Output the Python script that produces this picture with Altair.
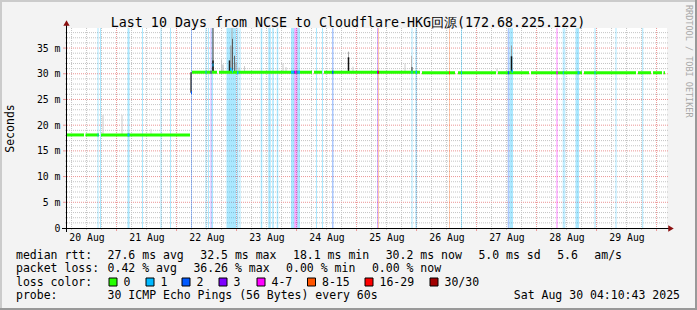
import altair as alt
import pandas as pd

MONO = "DejaVu Sans Mono"

# ---------------- data (hours since Aug 20 04:10:43, milliseconds) ----------------
SPAN_H = 240.0
Y_MAX = 38.9
FIRST_MIDNIGHT_H = 19.82          # Aug 21 00:00
DAY_LABELS = ["20 Aug", "21 Aug", "22 Aug", "23 Aug", "24 Aug",
              "25 Aug", "26 Aug", "27 Aug", "28 Aug", "29 Aug"]
Y_TICKS = [0, 5, 10, 15, 20, 25, 30, 35]

# median rtt segments
MED_START = [0.0, 7.4, 13.6, 50.0, 60.8, 98.8, 102.8, 142.0, 156.4, 172.4, 185.6, 206.8, 228.4, 234.4, 238.6]
MED_END   = [6.8, 12.8, 49.2, 60.0, 98.0, 102.0, 141.2, 155.2, 171.6, 184.8, 206.0, 227.6, 233.6, 238.0, 239.2]
MED_MS    = [18.1, 18.1, 18.1, 30.3, 30.3, 30.3, 30.3, 30.2, 30.2, 30.2, 30.2, 30.2, 30.2, 30.2, 30.2]

# loss background stripes
STRIPE_H = [12.2, 13.2, 24.2, 30.0, 37.4, 41.2, 49.6, 55.4, 56.4, 57.4, 57.8, 63.8, 68.0, 69.0,
            77.5, 80.5, 82.1, 83.9, 89.6, 90.88, 91.2, 91.8, 92.2, 99.6, 102.0, 106.0, 124.0, 124.4,
            137.8, 139.4, 152.8, 157.6, 176.3, 177.0, 195.7, 198.3, 198.9, 203.4, 211.0, 219.4, 230.1]
STRIPE_W = [0.4, 0.4, 0.8, 0.4, 0.4, 0.4, 0.4, 0.4, 0.4, 0.4, 0.6, 4.0, 0.6, 0.4,
            0.6, 1.0, 0.6, 0.6, 1.2, 0.32, 0.6, 0.4, 1.0, 0.4, 0.4, 0.6, 0.4, 0.4,
            0.4, 0.6, 0.4, 0.4, 0.6, 1.4, 0.6, 0.4, 0.4, 1.4, 0.4, 0.4, 0.4]
STRIPE_CAT = ["1", "1", "1", "1", "1", "1", "2", "1", "1", "3", "1", "1", "1", "1",
              "1", "1", "1", "1", "1", "3", "4-7", "3", "1", "1", "1", "2", "3", "8-15",
              "1", "1", "8-15", "1", "2", "1", "4-7", "1", "1", "1", "1", "1", "1"]

# loss-coloured points on the median line
DOT_H   = [12.2, 24.2, 49.6, 55.4, 57.4, 58.2, 65.2, 66.0, 68.0, 89.6, 90.88, 91.2, 91.8, 92.2,
           106.0, 124.0, 124.4, 137.8, 139.4, 152.8, 157.6, 176.3, 177.8, 195.7, 198.3, 204.2, 211.0]
DOT_W   = [0.4, 0.8, 0.4, 0.4, 0.4, 0.4, 0.6, 0.4, 0.6, 1.2, 0.32, 0.6, 0.4, 1.0,
           0.6, 0.4, 0.4, 0.4, 0.6, 0.4, 0.4, 0.6, 0.6, 0.6, 0.4, 0.8, 0.4]
DOT_MS  = [18.1, 18.1, 26.3, 30.3, 30.3, 31.7, 30.9, 30.5, 30.2, 30.3, 30.3, 30.3, 30.3, 30.3,
           30.3, 30.3, 30.3, 30.3, 30.3, 30.2, 30.2, 30.2, 30.5, 30.2, 30.2, 30.2, 30.2]
DOT_CAT = ["1", "1", "2", "1", "3", "1", "1", "1", "1", "1", "3", "4-7", "3", "1",
           "2", "3", "16-29", "1", "1", "8-15", "1", "2", "1", "4-7", "1", "1", "1"]

# smoke (spread of pings)
SMOKE_H  = [14.4, 22.0, 33.6, 49.6, 58.4, 58.4, 61.8, 62.4, 65.0, 65.6, 66.0, 66.2, 67.0, 67.6,
            68.8, 71.0, 86.4, 87.6, 112.6, 112.6, 114.4, 135.2, 137.8, 138.0, 172.0, 177.8, 177.8]
SMOKE_LO = [18.1, 18.1, 18.1, 26.3, 30.3, 30.3, 30.3, 30.3, 30.3, 30.3, 30.3, 30.3, 30.3, 30.3,
            30.3, 30.3, 30.3, 30.3, 30.3, 30.3, 30.3, 30.2, 30.2, 30.2, 30.2, 30.2, 30.2]
SMOKE_HI = [22.0, 22.0, 19.3, 30.3, 38.9, 32.6, 32.8, 31.8, 32.6, 35.5, 38.9, 36.8, 33.5, 32.2,
            31.2, 31.5, 32.0, 31.3, 34.3, 33.2, 31.4, 32.0, 33.5, 31.3, 31.0, 35.5, 33.4]
SMOKE_C  = ["#cccccc", "#cccccc", "#d8d8d8", "#222222", "#5a5a5a", "#1a1a1a", "#c4c4c4", "#b4b4b4",
            "#222222", "#808080", "#b0b0b0", "#5a5a5a", "#6a6a6a", "#9a9a9a", "#bbbbbb", "#cccccc",
            "#cccccc", "#cccccc", "#a8a8a8", "#111111", "#cccccc", "#cccccc", "#b8b8b8", "#333333",
            "#cccccc", "#9a9a9a", "#111111"]
SMOKE_W  = [1, 1, 1, 1.2, 1.2, 1.5, 1, 1, 1.5, 1, 1, 1, 1, 1,
            1, 1, 1, 1, 1, 1.5, 1, 1, 1, 1, 1, 1, 1.5]

LOSS_CATS = ["0", "1", "2", "3", "4-7", "8-15", "16-29", "30/30"]
LOSS_COLORS = ["#26ff00", "#00b8ff", "#0059ff", "#7e00ff", "#ff00ff", "#ff5500", "#ff0000", "#a10000"]

TITLE = "Last 10 Days from NCSE to Cloudflare-HKG回源(172.68.225.122)"
LEGEND_RTT_HEAD = "median rtt:"
LEGEND_RTT = ["27.6 ms avg", "32.5 ms max", "18.1 ms min", "30.2 ms now", "5.0 ms sd", "5.6", "am/s"]
LEGEND_LOSS_HEAD = "packet loss:"
LEGEND_LOSS = ["0.42 % avg", "36.26 % max", "0.00 % min", "0.00 % now"]
LEGEND_COLOR_HEAD = "loss color:"
LEGEND_PROBE_HEAD = "probe:"
LEGEND_PROBE = "30 ICMP Echo Pings (56 Bytes) every 60s"
LEGEND_DATE = "Sat Aug 30 04:10:43 2025"
CREDIT = "RRDTOOL / TOBI OETIKER"

# ---------------- layout (pixels) ----------------
RTT_X = [107.6, 200.3, 293.0, 385.7, 478.4, 557.2, 594.3]
LOSS_X = [107.6, 193.4, 286.1, 371.9]
BOX_X = [109, 146, 182, 219, 257, 307.5, 365, 430]

# ---------------- derived tables ----------------
NOON_H = [FIRST_MIDNIGHT_H - 12 + 24 * i for i in range(len(DAY_LABELS))]
MAJOR_X = [FIRST_MIDNIGHT_H + 24 * i for i in range(10)]
MINOR_X = [FIRST_MIDNIGHT_H - 18 + 6 * k for k in range(40)
           if (k - 3) % 4 != 0 and 0 < FIRST_MIDNIGHT_H - 18 + 6 * k < SPAN_H]
MAJOR_Y = [5, 10, 15, 20, 25, 30, 35]
MINOR_Y = [i for i in range(1, 39) if i % 5 != 0]

med_df = pd.DataFrame({"h0": MED_START, "h1": MED_END, "ms": MED_MS})
stripe_df = pd.DataFrame({"h0": STRIPE_H, "h1": [a + b for a, b in zip(STRIPE_H, STRIPE_W)], "cat": STRIPE_CAT})
dot_df = pd.DataFrame({"h0": DOT_H, "h1": [a + b for a, b in zip(DOT_H, DOT_W)], "ms": DOT_MS, "cat": DOT_CAT})
smoke_df = pd.DataFrame({"h": SMOKE_H, "lo": SMOKE_LO, "hi": SMOKE_HI, "c": SMOKE_C, "w": SMOKE_W})

XS = alt.Scale(domain=[0, SPAN_H], nice=False, zero=False)
YS = alt.Scale(domain=[0, Y_MAX], nice=False, zero=True)
label_arr = "[" + ",".join("'" + d + "'" for d in DAY_LABELS) + "]"
XAX = alt.Axis(values=NOON_H, labelExpr=f"{label_arr}[round((datum.value - {NOON_H[0]}) / 24)]",
               grid=False, domain=False, ticks=False, labelFont=MONO, labelFontSize=9.8,
               labelColor="#000000", labelPadding=4, title=None, labelFlush=False,
               labelOverlap=False)
YAX = alt.Axis(values=Y_TICKS,
               labelExpr="datum.value == 0 ? '0\u00a0\u00a0' : datum.value + '\u00a0m'",
               grid=False, domain=False, ticks=False, labelFont=MONO, labelFontSize=9.8,
               labelColor="#000000", labelPadding=7, title="Seconds", titleFont=MONO,
               titleFontSize=11.5, titleFontWeight="normal", titleColor="#000000",
               titleX=-57, titleY=100, titleAngle=270, titleAlign="center",
               titleBaseline="middle", labelOverlap=False)


def X(f):
    return alt.X(f, type="quantitative", scale=XS, axis=XAX)


def Y(f):
    return alt.Y(f, type="quantitative", scale=YS, axis=YAX)


LOSS_SCALE = alt.Scale(domain=LOSS_CATS, range=LOSS_COLORS)
MINOR_C = "#c4c4c4"
MAJOR_C = "#eb9494"

layers = []

# grid
layers.append(alt.Chart(pd.DataFrame({"h": MINOR_X})).mark_rule(
    stroke=MINOR_C, strokeDash=[1, 1], strokeWidth=1).encode(
    x=X("h"), y=alt.value(0), y2=alt.value(200)))
layers.append(alt.Chart(pd.DataFrame({"v": MINOR_Y})).mark_rule(
    stroke=MINOR_C, strokeDash=[1, 1], strokeWidth=1).encode(
    y=Y("v"), x=alt.value(0), x2=alt.value(601)))
layers.append(alt.Chart(pd.DataFrame({"h": MAJOR_X})).mark_rule(
    stroke=MAJOR_C, strokeDash=[1, 1], strokeWidth=1).encode(
    x=X("h"), y=alt.value(0), y2=alt.value(200)))
layers.append(alt.Chart(pd.DataFrame({"v": MAJOR_Y})).mark_rule(
    stroke=MAJOR_C, strokeDash=[1, 1], strokeWidth=1).encode(
    y=Y("v"), x=alt.value(0), x2=alt.value(601)))
# small ticks outside the plot
layers.append(alt.Chart(pd.DataFrame({"h": MAJOR_X})).mark_rule(
    stroke=MAJOR_C, strokeWidth=1).encode(x=X("h"), y=alt.value(200), y2=alt.value(203)))
layers.append(alt.Chart(pd.DataFrame({"h": MINOR_X})).mark_rule(
    stroke=MINOR_C, strokeWidth=1).encode(x=X("h"), y=alt.value(200), y2=alt.value(202)))
layers.append(alt.Chart(pd.DataFrame({"v": MAJOR_Y})).mark_rule(
    stroke=MAJOR_C, strokeWidth=1).encode(y=Y("v"), x=alt.value(-4), x2=alt.value(0)))
layers.append(alt.Chart(pd.DataFrame({"v": MINOR_Y})).mark_rule(
    stroke=MINOR_C, strokeWidth=1).encode(y=Y("v"), x=alt.value(-2), x2=alt.value(0)))

# loss stripes
layers.append(alt.Chart(stripe_df).mark_rect(opacity=0.33).encode(
    x=X("h0"), x2="h1", y=alt.value(0), y2=alt.value(200),
    color=alt.Color("cat:N", scale=LOSS_SCALE, legend=None)))

# smoke
layers.append(alt.Chart(smoke_df).mark_rule().encode(
    x=X("h"), y=Y("lo"), y2="hi",
    color=alt.Color("c:N", scale=None),
    strokeWidth=alt.StrokeWidth("w:Q", scale=None)))

# median
layers.append(alt.Chart(med_df).mark_rule(strokeWidth=3, color="#26ff00", strokeCap="butt").encode(
    x=X("h0"), x2="h1", y=Y("ms")))
layers.append(alt.Chart(dot_df).mark_rule(strokeWidth=3, strokeCap="butt").encode(
    x=X("h0"), x2="h1", y=Y("ms"),
    color=alt.Color("cat:N", scale=LOSS_SCALE, legend=None)))

# axis lines and arrows
layers.append(alt.Chart(pd.DataFrame({"a": [0]})).mark_rule(color="#000000", strokeWidth=1).encode(
    x=alt.value(-5), x2=alt.value(602), y=alt.value(200.5)))
layers.append(alt.Chart(pd.DataFrame({"a": [0]})).mark_rule(color="#000000", strokeWidth=1).encode(
    x=alt.value(-0.5), y=alt.value(204), y2=alt.value(-3)))
layers.append(alt.Chart(pd.DataFrame({"a": [0]})).mark_point(
    shape="triangle-right", filled=True, size=40, color="#8b1010", opacity=1).encode(
    x=alt.value(604), y=alt.value(200.5)))
layers.append(alt.Chart(pd.DataFrame({"a": [0]})).mark_point(
    shape="triangle-up", filled=True, size=40, color="#8b1010", opacity=1).encode(
    x=alt.value(-0.5), y=alt.value(-5)))

# frame of the picture
OX, OY = 67, 28


def frame(x0, x1, y0, y1, col):
    return alt.Chart(pd.DataFrame({"a": [0]})).mark_rect(color=col).encode(
        x=alt.value(x0 - OX), x2=alt.value(x1 - OX), y=alt.value(y0 - OY), y2=alt.value(y1 - OY))


layers.append(frame(0, 697, 0, 2, "#cbcbcb"))
layers.append(frame(0, 2, 0, 310, "#cbcbcb"))
layers.append(frame(695, 697, 0, 310, "#999999"))
layers.append(frame(0, 697, 308, 310, "#999999"))


def txt(text, x, y, size, align="left", baseline="alphabetic", angle=0, color="#000000"):
    return alt.Chart(pd.DataFrame({"t": [text.replace(" ", "\u00a0")]})).mark_text(
        align=align, baseline=baseline, fontSize=size, angle=angle, color=color, font=MONO).encode(
        x=alt.value(x - OX), y=alt.value(y - OY), text="t:N")


LEG = 11.5
layers.append(txt(TITLE, 348, 26.5, 13.3, align="center"))
layers.append(txt(CREDIT, 688.5, 5, 8.5, baseline="middle", angle=90, color="#a8a8a8"))
layers.append(txt(LEGEND_RTT_HEAD, 16, 258.5, LEG))
for s, px in zip(LEGEND_RTT, RTT_X):
    layers.append(txt(s, px, 258.5, LEG))
layers.append(txt(LEGEND_LOSS_HEAD, 16, 272, LEG))
for s, px in zip(LEGEND_LOSS, LOSS_X):
    layers.append(txt(s, px, 272, LEG))
layers.append(txt(LEGEND_COLOR_HEAD, 16, 285.5, LEG))
layers.append(txt(LEGEND_PROBE_HEAD, 16, 299, LEG))
layers.append(txt(LEGEND_PROBE, 107.6, 299, LEG))
layers.append(txt(LEGEND_DATE, 680, 299, LEG, align="right"))

for bx, cat, col in zip(BOX_X, LOSS_CATS, LOSS_COLORS):
    layers.append(alt.Chart(pd.DataFrame({"a": [0]})).mark_rect(
        fill=col, stroke="#000000", strokeWidth=1).encode(
        x=alt.value(bx - OX), x2=alt.value(bx + 8 - OX), y=alt.value(278 - OY), y2=alt.value(286 - OY)))
    layers.append(txt(cat, bx + 14.5, 285.5, LEG))

chart = alt.layer(*layers).properties(
    width=600, height=200,
    padding={"left": 67, "top": 28, "right": 30, "bottom": 82},
    autosize=alt.AutoSizeParams(type="none"),
    background="#f3f3f3",
).configure_view(fill="white", stroke=None)

chart.save("out.html", embed_options={"renderer": "svg", "actions": False})
